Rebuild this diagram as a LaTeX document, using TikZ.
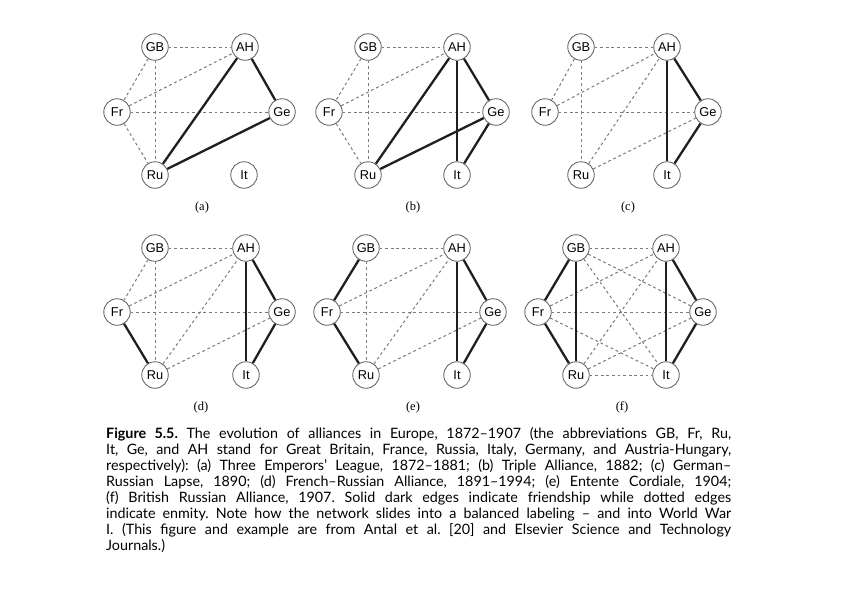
\documentclass[tikz,border=0pt]{standalone}
\usepackage{fontspec}
\newfontfamily\capfont{Lato}
\newfontfamily\nodefam{Liberation Sans}
\newfontfamily\labfam{Liberation Serif}
\begin{document}
\begin{tikzpicture}[x=1pt,y=1pt]
\tikzset{
  cn/.style={circle, draw=black!62, line width=0.85pt, fill=white, minimum size=26.5pt, inner sep=0pt, font=\nodefam\fontsize{12.8}{14}\selectfont},
  enemy/.style={draw=black!52, line width=1pt, dash pattern=on 2.8pt off 2.8pt},
  friend/.style={draw=black!88, line width=2.3pt},
  plabel/.style={font=\labfam\fontsize{12.5}{14}\selectfont},
  captext/.style={anchor=north west, inner sep=0pt, text width=625pt, align=justify, font=\capfont\fontsize{14.3}{16}\selectfont}
}
\fill[white] (0,0) rectangle (842,-595);
\useasboundingbox (0,0) rectangle (842,-595);

% ---------- (a)
\node[cn] (aGB) at (155,-47) {GB};
\node[cn] (aAH) at (245,-47) {AH};
\node[cn] (aFr) at (117,-112) {Fr};
\node[cn] (aGe) at (282,-112) {Ge};
\node[cn] (aRu) at (155,-175) {Ru};
\node[cn] (aIt) at (244,-175) {It};
\node[plabel] (aL) at (202,-207) {(a)};
\draw[enemy] (aGB) -- (aAH);
\draw[enemy] (aGB) -- (aFr);
\draw[enemy] (aGB) -- (aRu);
\draw[enemy] (aFr) -- (aAH);
\draw[enemy] (aFr) -- (aGe);
\draw[enemy] (aFr) -- (aRu);
\draw[friend] (aAH) -- (aRu);
\draw[friend] (aAH) -- (aGe);
\draw[friend] (aGe) -- (aRu);

% ---------- (b)
\node[cn] (bGB) at (368,-47) {GB};
\node[cn] (bAH) at (457,-47) {AH};
\node[cn] (bFr) at (329,-112) {Fr};
\node[cn] (bGe) at (496,-112) {Ge};
\node[cn] (bRu) at (368,-175) {Ru};
\node[cn] (bIt) at (457,-175) {It};
\node[plabel] (bL) at (413,-207) {(b)};
\draw[enemy] (bGB) -- (bAH);
\draw[enemy] (bGB) -- (bFr);
\draw[enemy] (bGB) -- (bRu);
\draw[enemy] (bFr) -- (bAH);
\draw[enemy] (bFr) -- (bGe);
\draw[enemy] (bFr) -- (bRu);
\draw[friend] (bAH) -- (bRu);
\draw[friend] (bAH) -- (bIt);
\draw[friend] (bAH) -- (bGe);
\draw[friend] (bGe) -- (bRu);
\draw[friend] (bGe) -- (bIt);

% ---------- (c)
\node[cn] (cGB) at (581,-47) {GB};
\node[cn] (cAH) at (667,-47) {AH};
\node[cn] (cFr) at (545,-112) {Fr};
\node[cn] (cGe) at (708,-112) {Ge};
\node[cn] (cRu) at (581,-175) {Ru};
\node[cn] (cIt) at (667,-175) {It};
\node[plabel] (cL) at (628,-207) {(c)};
\draw[enemy] (cGB) -- (cAH);
\draw[enemy] (cGB) -- (cFr);
\draw[enemy] (cGB) -- (cRu);
\draw[enemy] (cFr) -- (cAH);
\draw[enemy] (cFr) -- (cGe);
\draw[enemy] (cRu) -- (cAH);
\draw[enemy] (cRu) -- (cGe);
\draw[friend] (cAH) -- (cIt);
\draw[friend] (cAH) -- (cGe);
\draw[friend] (cGe) -- (cIt);

% ---------- (d)
\node[cn] (dGB) at (155,-248) {GB};
\node[cn] (dAH) at (246,-248) {AH};
\node[cn] (dFr) at (117,-312) {Fr};
\node[cn] (dGe) at (282,-312) {Ge};
\node[cn] (dRu) at (155,-375) {Ru};
\node[cn] (dIt) at (246,-375) {It};
\node[plabel] (dL) at (201,-407) {(d)};
\draw[enemy] (dGB) -- (dAH);
\draw[enemy] (dGB) -- (dFr);
\draw[enemy] (dGB) -- (dRu);
\draw[enemy] (dFr) -- (dAH);
\draw[enemy] (dFr) -- (dGe);
\draw[enemy] (dRu) -- (dAH);
\draw[enemy] (dRu) -- (dGe);
\draw[friend] (dFr) -- (dRu);
\draw[friend] (dAH) -- (dIt);
\draw[friend] (dAH) -- (dGe);
\draw[friend] (dGe) -- (dIt);

% ---------- (e)
\node[cn] (eGB) at (366,-248) {GB};
\node[cn] (eAH) at (457,-248) {AH};
\node[cn] (eFr) at (327,-312) {Fr};
\node[cn] (eGe) at (493,-312) {Ge};
\node[cn] (eRu) at (366,-375) {Ru};
\node[cn] (eIt) at (457,-375) {It};
\node[plabel] (eL) at (413,-407) {(e)};
\draw[enemy] (eGB) -- (eAH);
\draw[enemy] (eGB) -- (eRu);
\draw[enemy] (eFr) -- (eAH);
\draw[enemy] (eFr) -- (eGe);
\draw[enemy] (eRu) -- (eAH);
\draw[enemy] (eRu) -- (eGe);
\draw[friend] (eGB) -- (eFr);
\draw[friend] (eFr) -- (eRu);
\draw[friend] (eAH) -- (eIt);
\draw[friend] (eAH) -- (eGe);
\draw[friend] (eGe) -- (eIt);

% ---------- (f)
\node[cn] (fGB) at (576,-248) {GB};
\node[cn] (fAH) at (666,-248) {AH};
\node[cn] (fFr) at (538,-312) {Fr};
\node[cn] (fGe) at (703,-312) {Ge};
\node[cn] (fRu) at (576,-375) {Ru};
\node[cn] (fIt) at (666,-375) {It};
\node[plabel] (fL) at (622,-407) {(f)};
\draw[enemy] (fGB) -- (fAH);
\draw[enemy] (fGB) -- (fGe);
\draw[enemy] (fGB) -- (fIt);
\draw[enemy] (fFr) -- (fAH);
\draw[enemy] (fFr) -- (fGe);
\draw[enemy] (fFr) -- (fIt);
\draw[enemy] (fRu) -- (fAH);
\draw[enemy] (fRu) -- (fGe);
\draw[enemy] (fRu) -- (fIt);
\draw[friend] (fGB) -- (fFr);
\draw[friend] (fFr) -- (fRu);
\draw[friend] (fGB) -- (fRu);
\draw[friend] (fAH) -- (fIt);
\draw[friend] (fAH) -- (fGe);
\draw[friend] (fGe) -- (fIt);

% ---------- caption
\node[captext] (cap) at (106,-427) {\frenchspacing\textbf{Figure 5.5.} The evolution of alliances in Europe, 1872–1907 (the abbreviations GB, Fr, Ru,\linebreak
It, Ge, and AH stand for Great Britain, France, Russia, Italy, Germany, and Austria-Hungary,\linebreak
respectively): (a) Three Emperors’ League, 1872–1881; (b) Triple Alliance, 1882; (c) German–\linebreak
Russian Lapse, 1890; (d) French–Russian Alliance, 1891–1994; (e) Entente Cordiale, 1904;\linebreak
(f) British Russian Alliance, 1907. Solid dark edges indicate friendship while dotted edges\linebreak
indicate enmity. Note how the network slides into a balanced labeling – and into World War\linebreak
I. (This figure and example are from Antal et al. [20] and Elsevier Science and Technology\linebreak
Journals.)};
\end{tikzpicture}
\end{document}
